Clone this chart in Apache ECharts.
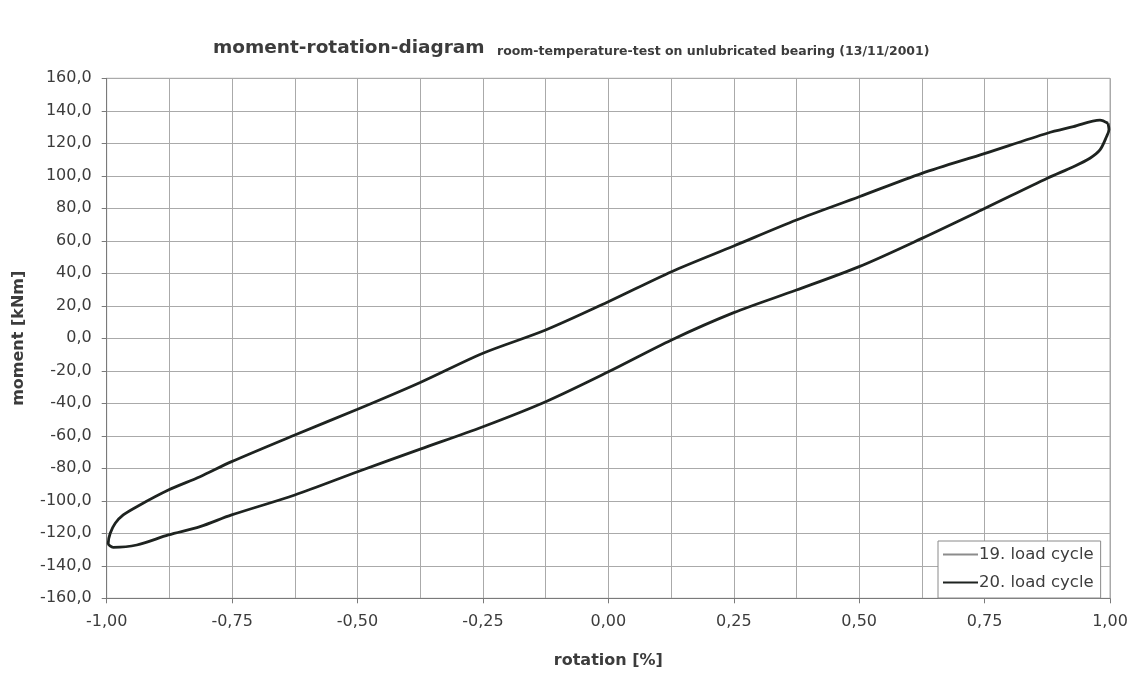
<!DOCTYPE html>
<html>
<head>
<meta charset="utf-8">
<script src="https://cdn.jsdelivr.net/npm/echarts@6/dist/echarts.min.js"></script>
<style>
html,body{margin:0;padding:0;background:#fff;}
#chart{width:1137px;height:675px;}
</style>
</head>
<body>
<div id="chart"></div>
<script>
// rotation [%] and moment [kNm] (closed loop, 20. load cycle)
const rotation20 = [0.996, 0.998, 0.993, 0.980, 0.960, 0.927, 0.875, 0.751, 0.625, 0.500, 0.375, 0.250, 0.126, 0.000, -0.125, -0.250, -0.375, -0.500, -0.625, -0.751, -0.814, -0.877, -0.940, -0.987, -0.997, -0.993, -0.983, -0.967, -0.940, -0.877, -0.814, -0.751, -0.625, -0.500, -0.375, -0.250, -0.125, 0.000, 0.126, 0.250, 0.375, 0.500, 0.625, 0.751, 0.875, 0.927, 0.980, 0.996];
const moment20   = [132.3, 128.5, 124.0, 115.9, 110.8, 105.6, 98.5, 80.0, 61.5, 44.1, 29.7, 15.8, -1.0, -20.6, -39.0, -54.4, -68.2, -82.1, -96.4, -108.7, -115.9, -121.0, -127.2, -128.6, -126.2, -120.0, -113.8, -108.7, -103.6, -93.4, -85.2, -75.9, -59.5, -43.7, -27.2, -9.2, 5.1, 22.5, 41.0, 56.8, 72.8, 87.1, 101.5, 113.8, 126.2, 130.2, 134.3, 132.3];
// 19. load cycle lies underneath the 20. cycle in the picture
const rotation19 = rotation20.slice();
const moment19   = moment20.slice();
const seriesNames = ['19. load cycle', '20. load cycle'];
const xTicks = [-1, 1, 0.25];
const yTicks = [-160, 160, 20];

function pairs(xs, ys){ return xs.map((x,i)=>[x, ys[i]]); }

const chart = echarts.init(document.getElementById('chart'), null, {renderer:'canvas'});
const gridColor = '#aaaaaa';
const axisColor = '#7a7a7a';
const textColor = '#3c3c3c';
const font = '"DejaVu Sans", Arial, sans-serif';

chart.setOption({
  backgroundColor: '#ffffff',
  animation: false,
  title: [
    {left: 208, top: 34, text: 'moment-rotation-diagram',
     textStyle: {fontFamily: font, fontSize: 18.5, fontWeight: 'bold', color: textColor}},
    {left: 492, top: 40, text: 'room-temperature-test on unlubricated bearing (13/11/2001)',
     textStyle: {fontFamily: font, fontSize: 12.5, fontWeight: 'bold', color: textColor}}
  ],
  grid: {left: 106.7, right: 27, top: 78.3, bottom: 76.7, containLabel: false,
         show: true, borderColor: gridColor, borderWidth: 1},
  legend: {
    orient: 'vertical', left: 938, top: 541,
    backgroundColor: '#ffffff', borderColor: '#8a8a8a', borderWidth: 1,
    padding: [5, 7, 7, 4], itemGap: 11, itemWidth: 35, itemHeight: 16,
    itemStyle: {opacity: 0},
    textStyle: {fontFamily: font, fontSize: 16.5, color: textColor, padding: [0,0,0,-4]},
    data: seriesNames
  },
  xAxis: {
    type: 'value', min: xTicks[0], max: xTicks[1], interval: xTicks[2],
    name: 'rotation [%]', nameLocation: 'middle', nameGap: 55,
    nameTextStyle: {fontFamily: font, fontSize: 16, fontWeight: 'bold', color: textColor},
    axisLine: {show: true, onZero: false, lineStyle: {color: axisColor, width: 1}},
    axisTick: {show: true, inside: false, length: 5, lineStyle: {color: axisColor}},
    axisLabel: {fontFamily: font, fontSize: 16, color: textColor, margin: 16,
      formatter: v => v.toFixed(2).replace('.', ',')},
    splitLine: {show: true, lineStyle: {color: gridColor, width: 1}},
    minorTick: {show: false, splitNumber: 2},
    minorSplitLine: {show: true, lineStyle: {color: gridColor, width: 1}}
  },
  yAxis: {
    type: 'value', min: yTicks[0], max: yTicks[1], interval: yTicks[2],
    name: 'moment [kNm]', nameLocation: 'middle', nameGap: 80,
    nameTextStyle: {fontFamily: font, fontSize: 16, fontWeight: 'bold', color: textColor},
    axisLine: {show: true, onZero: false, lineStyle: {color: axisColor, width: 1}},
    axisTick: {show: true, inside: false, length: 5, lineStyle: {color: axisColor}},
    axisLabel: {fontFamily: font, fontSize: 16, color: textColor, margin: 15,
      formatter: v => v.toFixed(1).replace('.', ',')},
    splitLine: {show: true, lineStyle: {color: gridColor, width: 1}}
  },
  series: [
    {
      name: seriesNames[0], type: 'line', data: pairs(rotation19, moment19),
      symbol: 'none', smooth: 0.3, z: 2,
      lineStyle: {color: '#8c8c8c', width: 1}, itemStyle: {color: '#8c8c8c'}
    },
    {
      name: seriesNames[1], type: 'line', data: pairs(rotation20, moment20),
      symbol: 'none', smooth: 0.3, z: 3,
      lineStyle: {color: '#1e2320', width: 2.8}, itemStyle: {color: '#1e2320'}
    }
  ]
});
</script>
</body>
</html>
